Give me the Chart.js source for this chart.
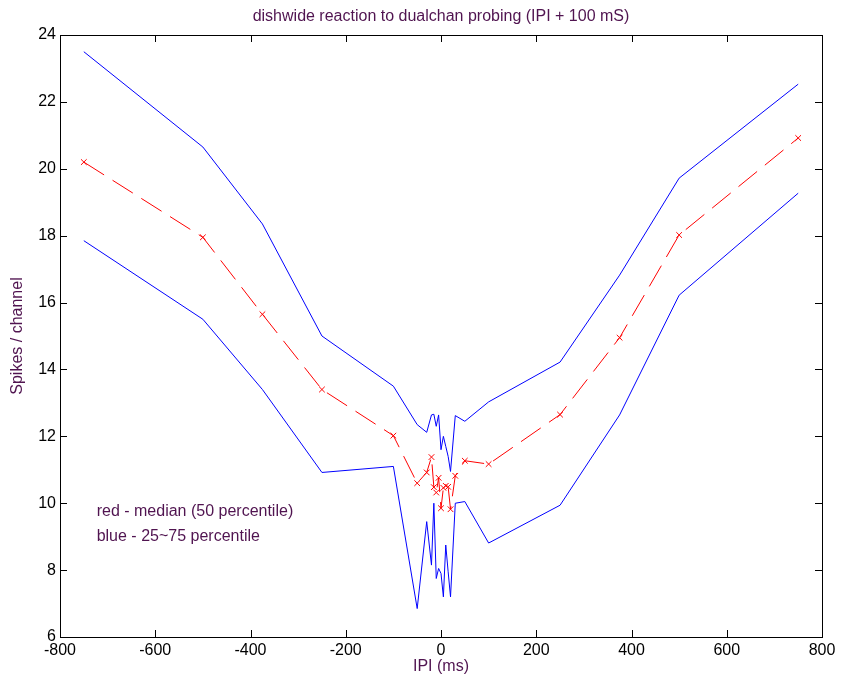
<!DOCTYPE html>
<html>
<head>
<meta charset="utf-8">
<script src="https://cdn.jsdelivr.net/npm/chart.js@4/dist/chart.umd.min.js"></script>
<style>
  html, body { margin: 0; padding: 0; background: #fff; }
  #wrap { width: 841px; height: 687px; }
</style>
</head>
<body>
<div id="wrap"><canvas id="c" width="841" height="687"></canvas></div>
<script>
// IPI values (ms) and percentiles of spikes per channel
const ipi = [-750, -500, -375, -250, -100, -50, -30, -20, -15, -10, -5, 0, 5, 10, 15, 20, 30, 50, 100, 250, 375, 500, 750];
const median = [20.2, 17.95, 15.65, 13.4, 12.02, 10.6, 10.92, 11.38, 10.48, 10.32, 10.76, 9.85, 10.46, 10.52, 10.49, 9.82, 10.82, 11.27, 11.17, 12.65, 14.95, 18.02, 20.92];
const pct75 = [23.5, 20.65, 18.35, 15.0, 13.5, 12.35, 12.12, 12.64, 12.66, 12.3, 12.64, 11.6, 12.0, 11.7, 11.4, 10.95, 12.62, 12.45, 13.03, 14.22, 16.82, 19.72, 22.53];
const pct25 = [17.85, 15.5, 13.4, 10.92, 11.1, 6.85, 9.45, 8.15, 10.0, 7.75, 8.05, 7.9, 7.2, 8.75, 7.95, 7.2, 10.0, 10.05, 8.81, 9.94, 12.64, 16.22, 19.27];

const xTicks = [-800, -600, -400, -200, 0, 200, 400, 600, 800];
const yTicks = [6, 8, 10, 12, 14, 16, 18, 20, 22, 24];

const titleText = 'dishwide reaction to dualchan probing (IPI + 100 mS)';
const noteLines = ['red - median (50 percentile)', 'blue - 25~75 percentile'];

const purple = '#501450';
const fontFamily = '"Liberation Sans", Arial, sans-serif';

const pts = vals => ipi.map((x, i) => ({ x, y: vals[i] }));

// MATLAB style: inward ticks on all four sides, full box, title and notes
const matlabFrame = {
  id: 'matlabFrame',
  afterDraw(chart) {
    const { ctx, chartArea: a, scales: { x, y } } = chart;
    const tl = 7;
    ctx.save();
    ctx.strokeStyle = '#000';
    ctx.lineWidth = 1;
    ctx.beginPath();
    xTicks.forEach(v => {
      const px = Math.round(x.getPixelForValue(v)) + 0.5;
      ctx.moveTo(px, a.bottom); ctx.lineTo(px, a.bottom - tl);
      ctx.moveTo(px, a.top); ctx.lineTo(px, a.top + tl);
    });
    yTicks.forEach(v => {
      const py = Math.round(y.getPixelForValue(v)) + 0.5;
      ctx.moveTo(a.left, py); ctx.lineTo(a.left + tl, py);
      ctx.moveTo(a.right, py); ctx.lineTo(a.right - tl, py);
    });
    ctx.stroke();
    ctx.strokeRect(Math.round(a.left) + 0.5, Math.round(a.top) + 0.5,
      Math.round(a.right - a.left), Math.round(a.bottom - a.top));

    ctx.fillStyle = purple;
    ctx.font = '16px ' + fontFamily;
    ctx.textAlign = 'center';
    ctx.textBaseline = 'middle';
    ctx.fillText(titleText, (a.left + a.right) / 2, 17);

    ctx.textAlign = 'left';
    const nx = x.getPixelForValue(-723);
    ctx.fillText(noteLines[0], nx, y.getPixelForValue(9.74));
    ctx.fillText(noteLines[1], nx, y.getPixelForValue(8.99));
    ctx.restore();
  }
};

new Chart(document.getElementById('c'), {
  type: 'scatter',
  data: {
    datasets: [
      {
        data: pts(pct75),
        showLine: true,
        borderColor: '#0000ff',
        borderWidth: 1,
        pointRadius: 0,
        tension: 0
      },
      {
        data: pts(pct25),
        showLine: true,
        borderColor: '#0000ff',
        borderWidth: 1,
        pointRadius: 0,
        tension: 0
      },
      {
        data: pts(median),
        showLine: true,
        borderColor: '#ff0000',
        borderWidth: 1,
        borderDash: [24, 10],
        pointStyle: 'crossRot',
        pointRadius: 4,
        pointBorderColor: '#ff0000',
        pointBorderWidth: 1,
        tension: 0
      }
    ]
  },
  options: {
    responsive: false,
    animation: false,
    layout: { padding: { top: 35, right: 19, left: 0, bottom: 0 } },
    plugins: {
      legend: { display: false },
      tooltip: { enabled: false }
    },
    scales: {
      x: {
        type: 'linear',
        min: -800,
        max: 800,
        afterFit: s => { s.height = 50; },
        afterBuildTicks: s => { s.ticks = xTicks.map(v => ({ value: v })); },
        grid: { display: false, drawTicks: false },
        border: { display: false },
        ticks: { color: '#000', padding: 4, font: { size: 16, family: fontFamily }, maxRotation: 0 },
        title: { display: true, text: 'IPI (ms)', color: purple, font: { size: 16, family: fontFamily }, padding: { top: 0, bottom: 11 } }
      },
      y: {
        type: 'linear',
        min: 6,
        max: 24,
        afterFit: s => { s.width = 60; },
        afterBuildTicks: s => { s.ticks = yTicks.map(v => ({ value: v })); },
        grid: { display: false, drawTicks: false },
        border: { display: false },
        ticks: { color: '#000', padding: 4, font: { size: 16, family: fontFamily } },
        title: { display: true, text: 'Spikes / channel', color: purple, font: { size: 16, family: fontFamily }, padding: { top: 8, bottom: 0 } }
      }
    }
  },
  plugins: [matlabFrame]
});
</script>
</body>
</html>
